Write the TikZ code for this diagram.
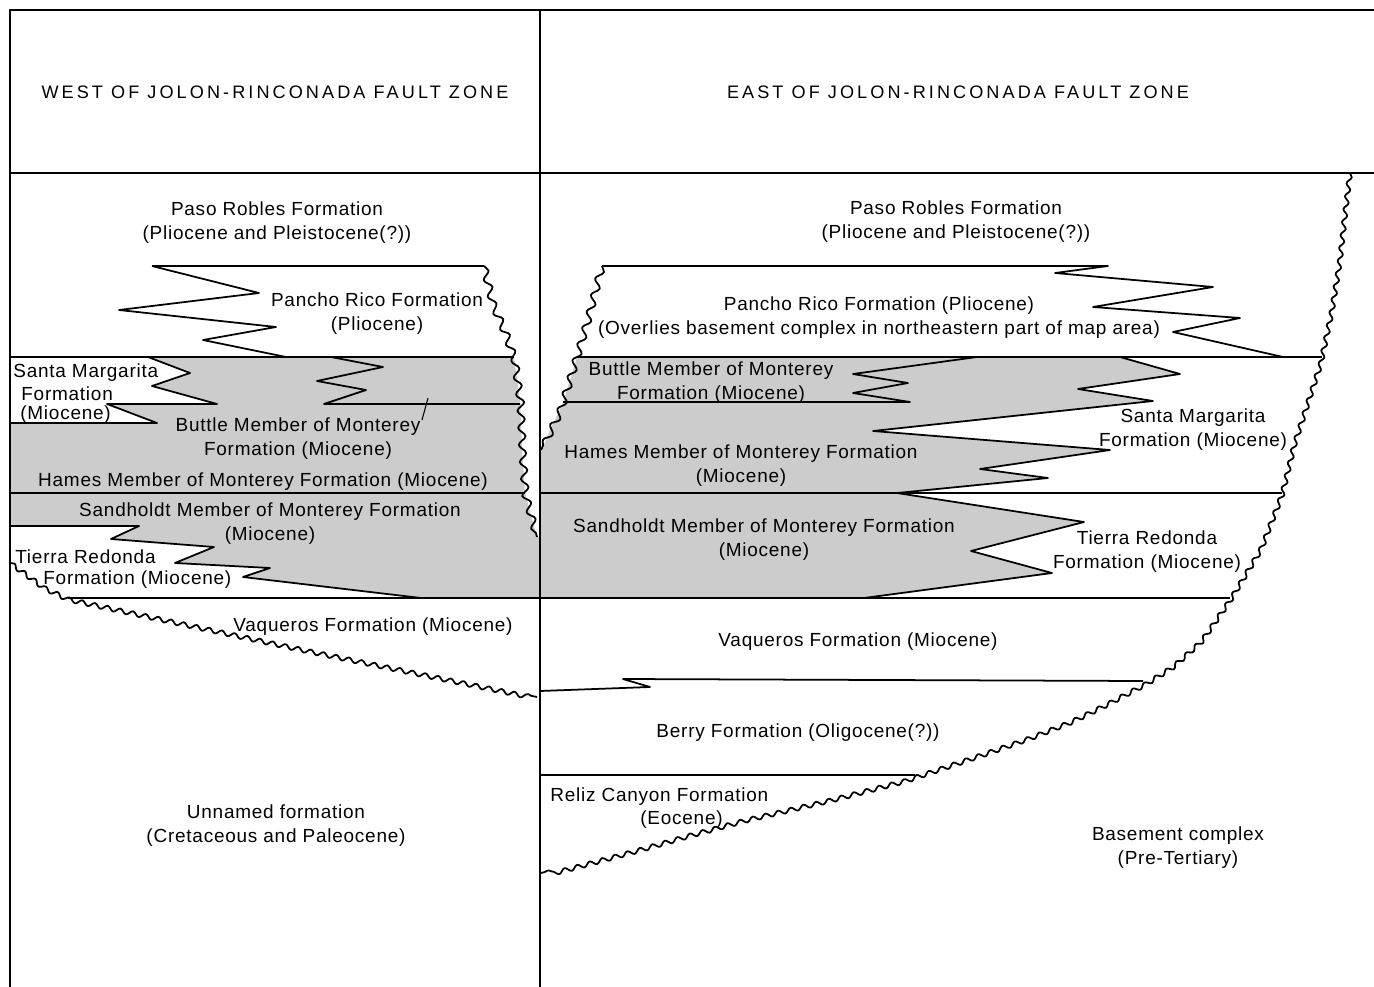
\documentclass[tikz,border=0pt]{standalone}
\usepackage{fontspec}
\setmainfont{Liberation Sans}
\newfontfamily\bodyfont[LetterSpace=4]{Liberation Sans}
\newfontfamily\headfont[LetterSpace=17]{Liberation Sans}
\usetikzlibrary{decorations.pathmorphing}
\definecolor{stip}{gray}{0.8}
\begin{document}
\begin{tikzpicture}[x=0.02cm,y=-0.02cm,
  lay/.style={line width=1pt, line join=round},
  wavy/.style={lay, decorate, decoration={snake, segment length=0.26cm, amplitude=0.045cm}},
  fault/.style={lay, decorate, decoration={snake, segment length=0.34cm, amplitude=0.07cm}},
  lbl/.style={font=\bodyfont\fontsize{10.8}{13.6}\selectfont, align=center, inner sep=0pt, yshift=-0.055cm},
  hdr/.style={font=\headfont\fontsize{10.3}{12}\selectfont, inner sep=0pt, yshift=-0.02cm}]
\useasboundingbox (0,0) rectangle (1374,987);
\fill[white] (0,0) rectangle (1374,987);
% shaded bands
\fill[stip] (10,357) -- (514,357) -- (520,400) -- (522,450) -- (525,493) -- (537,537) -- (540,537) -- (540,598) -- (421,598) -- (243,577) -- (270,568) -- (175,563) -- (214,547) -- (111,539) -- (139,526) -- (10,526) -- cycle;
\fill[white] (10,357) -- (148,357) -- (190,373) -- (152,386) -- (217,404) -- (107,404) -- (157,423) -- (10,423) -- cycle;
\fill[stip] (577,357) -- (1120,357) -- (1180,374) -- (1078,389) -- (1153,401) -- (873,431) -- (1110,450) -- (980,469) -- (1048,478) -- (897,493) -- (1084,522) -- (971,551) -- (1052,573) -- (864,598) -- (540,598) -- (540,447) -- (543,447) -- (550,430) -- (563,403) -- cycle;
% frame
\draw[lay] (10,987) -- (10,10) -- (1374,10);
\draw[lay] (10,173) -- (1374,173);
\draw[lay] (540,10) -- (540,987);
% west column
\draw[lay] (152,266) -- (484,266);
\draw[lay] (152,266) -- (259,293) -- (119,310) -- (276,327) -- (203,340) -- (286,357);
\draw[lay] (10,357) -- (514,357);
\draw[lay] (148,357) -- (190,373) -- (152,386) -- (217,404) -- (107,404) -- (157,423) -- (10,423);
\draw[lay] (331,357) -- (383,367) -- (317,381) -- (366,390) -- (324,404) -- (520,404);
\draw[line width=0.6pt] (428,398) -- (422,420);
\draw[lay] (10,493) -- (525,493);
\draw[lay] (10,526) -- (139,526) -- (111,539) -- (214,547) -- (175,563) -- (270,568) -- (243,577) -- (421,598);
\draw[lay] (68,598) -- (540,598);
\draw[fault] (484,266) -- (492,300) -- (505,330) -- (514,357) -- (520,400) -- (522,450) -- (525,493) -- (537,537);
\draw[wavy] (10,563) -- (40,585) -- (68,598) -- (300,648) -- (537,697);
% east column
\draw[fault] (602,266) -- (588,320) -- (577,357) -- (563,403) -- (550,430) -- (541,450);
\draw[lay] (602,266) -- (1108,266) -- (1055,273) -- (1213,287) -- (1093,307) -- (1240,318) -- (1173,332) -- (1283,357);
\draw[lay] (577,357) -- (1322,357);
\draw[lay] (977,357) -- (853,374) -- (908,383) -- (853,393) -- (910,402) -- (563,402);
\draw[lay] (1120,357) -- (1180,374) -- (1078,389) -- (1153,401) -- (873,431) -- (1110,450) -- (980,469) -- (1048,478) -- (897,493) -- (1084,522) -- (971,551) -- (1052,573) -- (864,598);
\draw[lay] (540,493) -- (1282,493);
\draw[lay] (540,598) -- (1230,598);
\draw[lay] (540,691) -- (650,687) -- (623,679) -- (1143,681);
\draw[lay] (540,775) -- (915,775);
\draw[wavy] (1350,173) -- (1345,215) -- (1340,260) -- (1332,310) -- (1322,357) -- (1308,400) -- (1295,440) -- (1282,493) -- (1262,545) -- (1230,598) -- (1203,637) -- (1175,662) -- (1143,682) -- (1105,702) -- (1068,720) -- (1027,736) -- (987,750) -- (907,777) -- (826,798) -- (745,817) -- (690,832) -- (638,847) -- (590,860) -- (541,873);
% labels
\node[hdr] (hw) at (275,91) {WEST OF JOLON-RINCONADA FAULT ZONE};
\node[hdr] (he) at (958,91) {EAST OF JOLON-RINCONADA FAULT ZONE};
\node[lbl] (prL) at (277,220) {Paso Robles Formation\\(Pliocene and Pleistocene(?))};
\node[lbl] (pcL) at (377,311) {Pancho Rico Formation\\(Pliocene)};
\node[lbl, anchor=west] (smL1) at (13,370) {Santa Margarita};
\node[lbl, anchor=west] (smL2) at (21,391) {Formation};
\node[lbl, anchor=west] (smL3) at (20,412) {(Miocene)};
\node[lbl] (buL) at (298,436) {Buttle Member of Monterey\\Formation (Miocene)};
\node[lbl] (haL) at (263,479) {Hames Member of Monterey Formation (Miocene)};
\node[lbl] (saL) at (270,521) {Sandholdt Member of Monterey Formation\\(Miocene)};
\node[lbl, anchor=west] (trL1) at (15,554) {Tierra Redonda};
\node[lbl, anchor=west] (trL2) at (43,577) {Formation (Miocene)};
\node[lbl] (vaL) at (373,624) {Vaqueros Formation (Miocene)};
\node[lbl] (unL) at (276,823) {Unnamed formation\\(Cretaceous and Paleocene)};
\node[lbl] (prR) at (956,219) {Paso Robles Formation\\(Pliocene and Pleistocene(?))};
\node[lbl] (pcR) at (879,315) {Pancho Rico Formation (Pliocene)\\(Overlies basement complex in northeastern part of map area)};
\node[lbl] (buR) at (711,380) {Buttle Member of Monterey\\Formation (Miocene)};
\node[lbl] (smR) at (1193,427) {Santa Margarita\\Formation (Miocene)};
\node[lbl] (haR) at (741,463) {Hames Member of Monterey Formation\\(Miocene)};
\node[lbl] (saR) at (764,537) {Sandholdt Member of Monterey Formation\\(Miocene)};
\node[lbl] (trR) at (1147,549) {Tierra Redonda\\Formation (Miocene)};
\node[lbl] (vaR) at (858,639) {Vaqueros Formation (Miocene)};
\node[lbl] (beR) at (798,730) {Berry Formation (Oligocene(?))};
\node[lbl, anchor=west] (reR1) at (550,794) {Reliz Canyon Formation};
\node[lbl, anchor=west] (reR2) at (640,817) {(Eocene)};
\node[lbl] (baR) at (1178,845) {Basement complex\\(Pre-Tertiary)};
\end{tikzpicture}
\end{document}
